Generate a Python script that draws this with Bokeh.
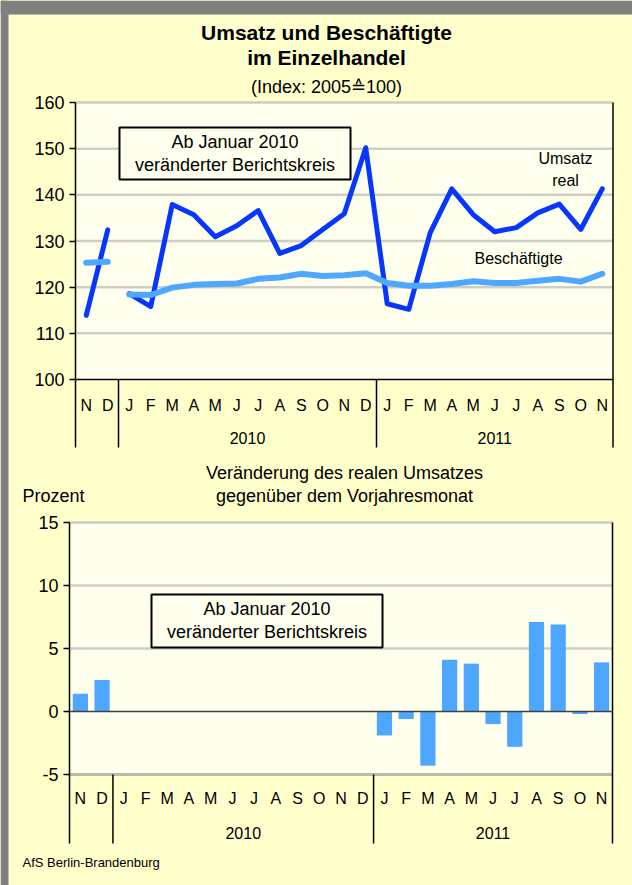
from bokeh.plotting import figure
from bokeh.models import Range1d, FixedTicker, LinearAxis
from bokeh.embed import file_html
from bokeh.resources import INLINE
from bokeh.core.properties import value

# ---------------- data ----------------
months = ["N", "D", "J", "F", "M", "A", "M", "J", "J", "A", "S", "O", "N", "D",
          "J", "F", "M", "A", "M", "J", "J", "A", "S", "O", "N"]
years = ["2010", "2011"]
year_start = [2, 14]
year_end = [14, 25]

# index 2005 = 100, old reporting group (Nov/Dec 2009)
umsatz_2009 = [113.9, 132.4]
besch_2009 = [125.3, 125.5]
# new reporting group (Jan 2010 - Nov 2011)
umsatz_2010_11 = [118.6, 115.8, 137.9, 135.7, 130.9, 133.3, 136.6, 127.3, 129.0, 132.5, 135.9, 150.2,
                  116.4, 115.2, 131.8, 141.3, 135.7, 132.0, 132.9, 136.1, 138.0, 132.5, 141.3]
besch_2010_11 = [118.4, 118.3, 119.9, 120.5, 120.7, 120.8, 121.8, 122.1, 122.9, 122.4, 122.6, 123.0,
                 120.9, 120.3, 120.3, 120.7, 121.3, 120.9, 120.9, 121.4, 121.8, 121.2, 122.9]
# change of real turnover vs. previous year's month, percent (none for 2010)
veraenderung = [1.4, 2.5] + [None] * 12 + [-1.9, -0.6, -4.3, 4.1, 3.8, -1.0, -2.8, 7.1, 6.9, -0.2, 3.9]

top_ticks = [100, 110, 120, 130, 140, 150, 160]
top_grid = [110, 120, 130, 140, 150, 160]
bottom_ticks = [-5, 0, 5, 10, 15]
bottom_grid = [5, 10, 15]

# ---------------- style / layout ----------------
FONT = "Liberation Sans"
YELLOW = "#FFFFCC"
CREAM = "#FFFFEE"
GRAY = "#808080"
DARK = "#0636FF"
LIGHT = "#4FA8FF"
BAR = "#4DA6FF"
GRID = "#9C9C9C"
PW, PH = 632, 885

n = len(months)
xc = [i + 0.5 for i in range(n)]

# pixel frame of the two chart areas
T_L, T_R, T_TOP, T_BASE, T_BOT = 75, 612.5, 102, 379, 447      # top chart
B_L, B_R, B_TOP, B_M5, B_BOT = 69, 612, 522, 774, 843           # bottom chart

t_cw = (T_R - T_L) / n
t_ppu = (T_BASE - T_TOP) / 60.0
b_cw = (B_R - B_L) / n
b_ppu = (B_M5 - B_TOP) / 20.0

p = figure(width=PW, height=PH, x_range=Range1d(0, PW), y_range=Range1d(PH, 0),
           output_backend="svg", toolbar_location=None, x_axis_location=None,
           y_axis_location=None, min_border=0, background_fill_color=YELLOW,
           border_fill_color=YELLOW, outline_line_color=None)
p.xgrid.visible = False
p.ygrid.visible = False

p.extra_x_ranges = {
    "tx": Range1d(-T_L / t_cw, (PW - T_L) / t_cw),
    "bx": Range1d(-B_L / b_cw, (PW - B_L) / b_cw),
}
p.extra_y_ranges = {
    "ty": Range1d(160 - (PH - T_TOP) / t_ppu, 160 + T_TOP / t_ppu),
    "by": Range1d(15 - (PH - B_TOP) / b_ppu, 15 + B_TOP / b_ppu),
}
t_lo = 100 - (T_BOT - T_BASE) / t_ppu
b_lo = -5 - (B_BOT - B_M5) / b_ppu
T = dict(x_range_name="tx", y_range_name="ty")
B = dict(x_range_name="bx", y_range_name="by")


def t_y(py):
    return 160 - (py - T_TOP) / t_ppu


def t_x(px):
    return (px - T_L) / t_cw


def b_y(py):
    return 15 - (py - B_TOP) / b_ppu


def b_x(px):
    return (px - B_L) / b_cw


def add_axis(xr, yr, ticks):
    ax = LinearAxis(x_range_name=xr, y_range_name=yr, fixed_location=0,
                    ticker=FixedTicker(ticks=ticks),
                    major_label_overrides={t: str(t) for t in ticks})
    ax.major_tick_out = 6
    ax.major_tick_in = 0
    ax.minor_tick_line_color = None
    ax.major_label_text_font = FONT
    ax.major_label_text_font_size = "18px"
    ax.major_label_text_color = "black"
    ax.major_label_standoff = 5
    ax.axis_line_color = None
    ax.major_tick_line_color = "black"
    ax.major_tick_line_width = 1.5
    p.add_layout(ax, "left")


# page frame (gray border top and left)
p.quad(left=[0, 0], right=[PW, 8], top=[0, 0], bottom=[14, PH], fill_color=GRAY, line_color=None)

# ---------------- titles ----------------
p.text(x=[326, 326], y=[32, 57], text=["Umsatz und Beschäftigte", "im Einzelhandel"],
       text_align="center", text_baseline="middle", text_font=value(FONT),
       text_font_size="21px", text_font_style="bold", text_color="black")
p.text(x=[326], y=[86], text=["(Index: 2005≙100)"], text_align="center", text_baseline="middle",
       text_font=value(FONT), text_font_size="18px", text_color="black")

# ---------------- top chart ----------------
p.quad(left=[0], right=[n], bottom=[100], top=[160], fill_color=CREAM, line_color=None, **T)
p.segment(x0=[0] * len(top_grid), x1=[n] * len(top_grid), y0=top_grid, y1=top_grid,
          line_color=GRID, line_width=2.5, line_dash="1 1", **T)
p.segment(x0=[0], y0=[100], x1=[n], y1=[100], line_color="black", line_width=1.5, **T)
p.segment(x0=[0] + year_start + [n], y0=[t_lo] * 4, x1=[0] + year_start + [n], y1=[160, 100, 100, 160],
          line_color="black", line_width=1.5, **T)
add_axis("tx", "ty", top_ticks)

p.line(xc[:2], umsatz_2009, line_color=DARK, line_width=5, line_cap="round", line_join="round", **T)
p.line(xc[2:], umsatz_2010_11, line_color=DARK, line_width=5, line_cap="round", line_join="round", **T)
p.line(xc[:2], besch_2009, line_color=LIGHT, line_width=6, line_cap="round", line_join="round", **T)
p.line(xc[2:], besch_2010_11, line_color=LIGHT, line_width=6, line_cap="round", line_join="round", **T)

p.text(x=xc, y=[t_y(405)] * n, text=months, text_align="center", text_baseline="middle",
       text_font=value(FONT), text_font_size="16px", text_color="black", **T)
p.text(x=[(s + e) / 2 for s, e in zip(year_start, year_end)], y=[t_y(437)] * 2, text=years,
       text_align="center", text_baseline="middle", text_font=value(FONT),
       text_font_size="16px", text_color="black", **T)

p.quad(left=[t_x(119)], right=[t_x(350)], top=[t_y(127)], bottom=[t_y(179)],
       fill_color=CREAM, line_color="black", line_width=2, **T)
p.text(x=[t_x(234.5)] * 2, y=[t_y(141), t_y(164)], text=["Ab Januar 2010", "veränderter Berichtskreis"],
       text_align="center", text_baseline="middle", text_font=value(FONT),
       text_font_size="18px", text_color="black", **T)

p.text(x=[t_x(565), t_x(565), t_x(518)], y=[t_y(158), t_y(180), t_y(258)],
       text=["Umsatz", "real", "Beschäftigte"], text_align="center", text_baseline="middle",
       text_font=value(FONT), text_font_size="16px", text_color="black", **T)

# ---------------- bottom chart ----------------
p.text(x=[344, 344], y=[472, 495], text=["Veränderung des realen Umsatzes", "gegenüber dem Vorjahresmonat"],
       text_align="center", text_baseline="middle", text_font=value(FONT),
       text_font_size="18px", text_color="black")
p.text(x=[22], y=[495], text=["Prozent"], text_align="left", text_baseline="middle",
       text_font=value(FONT), text_font_size="18px", text_color="black")

p.quad(left=[0], right=[n], bottom=[-5], top=[15], fill_color=CREAM, line_color=None, **B)
p.segment(x0=[0] * len(bottom_grid), x1=[n] * len(bottom_grid), y0=bottom_grid, y1=bottom_grid,
          line_color=GRID, line_width=2.5, line_dash="1 1", **B)
p.segment(x0=[0], y0=[-5], x1=[n], y1=[-5], line_color="#777777", line_width=3, line_dash="1 1", **B)
p.segment(x0=[0] + year_start + [n], y0=[b_lo] * 4, x1=[0] + year_start + [n], y1=[15, -5, -5, 15],
          line_color="black", line_width=1.5, **B)
add_axis("bx", "by", bottom_ticks)

bx_vals = [x for x, v in zip(xc, veraenderung) if v is not None]
bv_vals = [v for v in veraenderung if v is not None]
p.vbar(x=bx_vals, top=bv_vals, bottom=0, width=0.7, fill_color=BAR, line_color=None, **B)
p.segment(x0=[0], y0=[0], x1=[n], y1=[0], line_color="#404040", line_width=1.5, **B)

p.text(x=xc, y=[b_y(798)] * n, text=months, text_align="center", text_baseline="middle",
       text_font=value(FONT), text_font_size="16px", text_color="black", **B)
p.text(x=[(s + e) / 2 for s, e in zip(year_start, year_end)], y=[b_y(832)] * 2, text=years,
       text_align="center", text_baseline="middle", text_font=value(FONT),
       text_font_size="16px", text_color="black", **B)

p.quad(left=[b_x(151)], right=[b_x(382)], top=[b_y(594)], bottom=[b_y(647)],
       fill_color=CREAM, line_color="black", line_width=2, **B)
p.text(x=[b_x(266.5)] * 2, y=[b_y(608), b_y(631)], text=["Ab Januar 2010", "veränderter Berichtskreis"],
       text_align="center", text_baseline="middle", text_font=value(FONT),
       text_font_size="18px", text_color="black", **B)

# ---------------- footer ----------------
p.text(x=[22], y=[862], text=["AfS Berlin-Brandenburg"], text_align="left", text_baseline="middle",
       text_font=value(FONT), text_font_size="13px", text_color="black")

open("out.html", "w").write(file_html(p, INLINE))
